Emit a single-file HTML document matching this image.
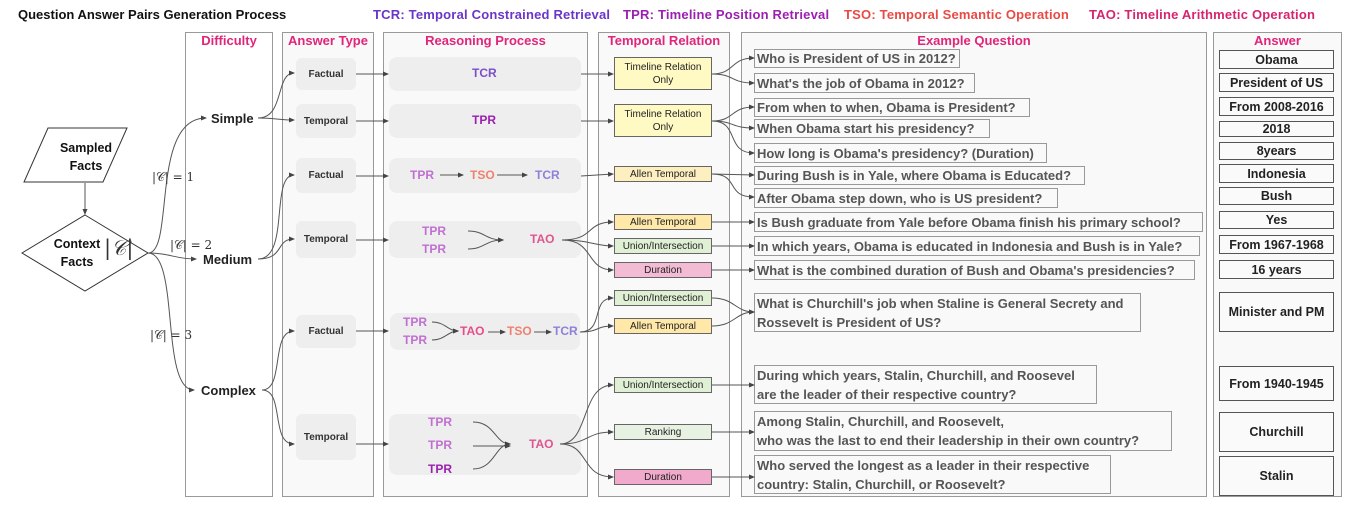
<!DOCTYPE html>
<html><head><meta charset="utf-8"><style>
body{margin:0;width:1355px;height:508px;background:#fff;position:relative;overflow:hidden;font-family:"Liberation Sans",sans-serif}
.a{position:absolute}
.panel{position:absolute;top:32px;height:465px;border:1px solid #999;background:#f9f9f9;box-sizing:border-box}
.hd{position:absolute;top:33px;font-weight:bold;font-size:13px;color:#e0257a;text-align:center}
.at{position:absolute;left:296px;width:60px;background:#eee;border-radius:6px;font-size:10px;font-weight:bold;color:#333;display:flex;align-items:center;justify-content:center}
.rp{position:absolute;left:389px;width:192px;background:#eeeeee;border-radius:8px}
.tr{position:absolute;left:614px;width:98px;border:1px solid #666;box-sizing:border-box;font-size:10px;color:#222;display:flex;align-items:center;justify-content:center;text-align:center;line-height:13px}
.q{position:absolute;left:754px;border:1px solid #999;box-sizing:border-box;background:#f9f9f9;font-weight:bold;font-size:13px;color:#555;padding:0 2px;display:flex;align-items:center;line-height:19px;white-space:nowrap}
.an{position:absolute;left:1219px;width:115px;border:1px solid #555;box-sizing:border-box;font-weight:bold;font-size:12.5px;color:#222;display:flex;align-items:center;justify-content:center;background:#fafafa}
.t{position:absolute;font-weight:bold;font-size:12px}
.m{position:absolute;font-family:"DejaVu Serif","Liberation Serif",serif;font-size:12px;color:#333}
.ttl{position:absolute;top:7px;font-weight:bold;font-size:13px;white-space:nowrap}
</style></head><body>
<div class="ttl" style="left:18px;color:#111">Question Answer Pairs Generation Process</div>
<div class="ttl" style="left:373px;color:#6a35c8;letter-spacing:0.2px">TCR: Temporal Constrained Retrieval</div>
<div class="ttl" style="left:623px;color:#9b1fb0;letter-spacing:0.2px">TPR: Timeline Position Retrieval</div>
<div class="ttl" style="left:844px;color:#e84a45;letter-spacing:0.2px">TSO: Temporal Semantic Operation</div>
<div class="ttl" style="left:1089px;color:#d6246e;letter-spacing:0.2px">TAO: Timeline Arithmetic Operation</div>

<div class="panel" style="left:185px;width:88px;background:#fff"></div>
<div class="panel" style="left:282px;width:92px"></div>
<div class="panel" style="left:383px;width:205px"></div>
<div class="panel" style="left:598px;width:132px"></div>
<div class="panel" style="left:741px;width:466px"></div>
<div class="panel" style="left:1213px;width:129px"></div>
<div class="hd" style="left:185px;width:88px">Difficulty</div>
<div class="hd" style="left:282px;width:92px">Answer Type</div>
<div class="hd" style="left:383px;width:205px">Reasoning Process</div>
<div class="hd" style="left:598px;width:132px">Temporal Relation</div>
<div class="hd" style="left:741px;width:466px">Example Question</div>
<div class="hd" style="left:1213px;width:129px">Answer</div>

<div class="at" style="top:58px;height:32px">Factual</div>
<div class="at" style="top:104px;height:34px">Temporal</div>
<div class="at" style="top:158px;height:35px">Factual</div>
<div class="at" style="top:221px;height:37px">Temporal</div>
<div class="at" style="top:315px;height:33px">Factual</div>
<div class="at" style="top:414px;height:46px">Temporal</div>

<div class="rp" style="top:57px;height:34px"></div>
<div class="rp" style="top:104px;height:34px"></div>
<div class="rp" style="top:158px;height:35px"></div>
<div class="rp" style="top:221px;height:37px"></div>
<div class="rp" style="left:390px;width:190px;top:313px;height:37px"></div>
<div class="rp" style="top:414px;height:61px"></div>

<div class="t" style="left:472px;top:66px;color:#7a4fc8">TCR</div>
<div class="t" style="left:472px;top:113px;color:#9b1fb0">TPR</div>
<div class="t" style="left:410px;top:168px;color:#c070d0">TPR</div>
<div class="t" style="left:470px;top:168px;color:#f08070">TSO</div>
<div class="t" style="left:535px;top:168px;color:#9080d8">TCR</div>
<div class="t" style="left:422px;top:224px;color:#c070d0">TPR</div>
<div class="t" style="left:422px;top:242px;color:#c070d0">TPR</div>
<div class="t" style="left:530px;top:232px;color:#e05590">TAO</div>
<div class="t" style="left:403px;top:315px;color:#c070d0">TPR</div>
<div class="t" style="left:403px;top:333px;color:#c070d0">TPR</div>
<div class="t" style="left:460px;top:324px;color:#e84c88">TAO</div>
<div class="t" style="left:507px;top:324px;color:#f08070">TSO</div>
<div class="t" style="left:553px;top:324px;color:#9080d8">TCR</div>
<div class="t" style="left:428px;top:415px;color:#c070d0">TPR</div>
<div class="t" style="left:428px;top:438px;color:#c070d0">TPR</div>
<div class="t" style="left:428px;top:462px;color:#9b1fb0">TPR</div>
<div class="t" style="left:529px;top:437px;color:#e05590">TAO</div>

<div class="tr" style="top:57px;height:33px;background:#fff9c4">Timeline Relation<br>Only</div>
<div class="tr" style="top:104px;height:33px;background:#fff9c4">Timeline Relation<br>Only</div>
<div class="tr" style="top:166px;height:16px;background:#fdefc0">Allen Temporal</div>
<div class="tr" style="top:214px;height:16px;background:#ffe8a8">Allen Temporal</div>
<div class="tr" style="top:238px;height:16px;background:#e0f0d4">Union/Intersection</div>
<div class="tr" style="top:262px;height:16px;background:#f4bcd4">Duration</div>
<div class="tr" style="top:290px;height:16px;background:#e0f0d4">Union/Intersection</div>
<div class="tr" style="top:318px;height:16px;background:#ffe8a8">Allen Temporal</div>
<div class="tr" style="top:377px;height:16px;background:#e0f0d4">Union/Intersection</div>
<div class="tr" style="top:424px;height:16px;background:#e8f2e2">Ranking</div>
<div class="tr" style="top:469px;height:16px;background:#f2aacc">Duration</div>

<div class="q" style="top:49px;height:19px;width:206px">Who is President of US in 2012?</div>
<div class="q" style="top:73px;height:20px;width:221px">What's the job of Obama in 2012?</div>
<div class="q" style="top:98px;height:19px;width:276px">From when to when, Obama is President?</div>
<div class="q" style="top:119px;height:19px;width:236px">When Obama start his presidency?</div>
<div class="q" style="top:143px;height:20px;width:293px">How long is Obama's presidency? (Duration)</div>
<div class="q" style="top:166px;height:19px;width:331px">During Bush is in Yale, where Obama is Educated?</div>
<div class="q" style="top:188px;height:20px;width:304px">After Obama step down, who is US president?</div>
<div class="q" style="top:212px;height:20px;width:449px">Is Bush graduate from Yale before Obama finish his primary school?</div>
<div class="q" style="top:236px;height:20px;width:446px">In which years, Obama is educated in Indonesia and Bush is in Yale?</div>
<div class="q" style="top:260px;height:20px;width:441px">What is the combined duration of Bush and Obama's presidencies?</div>
<div class="q" style="top:293px;height:39px;width:387px">What is Churchill's job when Staline is General Secrety and<br>Rossevelt is President of US?</div>
<div class="q" style="top:365px;height:39px;width:343px">During which years, Stalin, Churchill, and Roosevel<br>are the leader of their respective country?</div>
<div class="q" style="top:411px;height:40px;width:418px">Among Stalin, Churchill, and Roosevelt,<br>who was the last to end their leadership in their own country?</div>
<div class="q" style="top:455px;height:39px;width:357px">Who served the longest as a leader in their respective<br>country: Stalin, Churchill, or Roosevelt?</div>

<div class="an" style="top:50px;height:19px">Obama</div>
<div class="an" style="top:73px;height:19px">President of US</div>
<div class="an" style="top:97px;height:19px">From 2008-2016</div>
<div class="an" style="top:121px;height:16px">2018</div>
<div class="an" style="top:142px;height:18px">8years</div>
<div class="an" style="top:164px;height:19px">Indonesia</div>
<div class="an" style="top:187px;height:18px">Bush</div>
<div class="an" style="top:211px;height:18px">Yes</div>
<div class="an" style="top:235px;height:19px">From 1967-1968</div>
<div class="an" style="top:260px;height:19px">16 years</div>
<div class="an" style="top:292px;height:40px">Minister and PM</div>
<div class="an" style="top:366px;height:35px">From 1940-1945</div>
<div class="an" style="top:412px;height:40px">Churchill</div>
<div class="an" style="top:456px;height:40px">Stalin</div>

<div class="t" style="left:211px;top:111px;font-size:13px;color:#222">Simple</div>
<div class="t" style="left:203px;top:252px;font-size:13px;color:#222">Medium</div>
<div class="t" style="left:201px;top:383px;font-size:13px;color:#222">Complex</div>

<svg class="a" style="left:0;top:0" width="1355" height="508">
<defs><marker id="ar" markerWidth="6" markerHeight="6" refX="5" refY="3" orient="auto"><path d="M0,0.5 L6,3 L0,5.5z" fill="#444"/></marker></defs>
<polygon points="48,128 127,128 103,182 24,182" fill="#fff" stroke="#333"/>
<polygon points="85,215 148,253 85,291 22,253" fill="#fff" stroke="#333"/>
<g fill="none" stroke="#555" stroke-width="1" marker-end="url(#ar)">
<path d="M85,183 V214"/>
<path d="M148,253 C175,253 150,118 206,118"/>
<path d="M148,253 C170,253 175,259 196,259"/>
<path d="M148,253 C180,253 160,390 194,390"/>
<path d="M258,118 C285,118 275,73 294,73"/>
<path d="M258,118 C275,118 280,120 294,120"/>
<path d="M258,259 C290,259 270,175 294,175"/>
<path d="M258,259 C285,259 275,239 294,239"/>
<path d="M262,390 C285,390 270,331 294,331"/>
<path d="M262,390 C285,390 270,444 294,444"/>
<path d="M356,74 H388"/><path d="M356,121 H388"/><path d="M356,176 H388"/><path d="M356,240 H388"/><path d="M356,331 H388"/><path d="M356,444 H388"/>
<path d="M581,74 H613"/><path d="M581,121 H613"/><path d="M581,176 L613,174"/>
<path d="M562,240 C595,240 585,222 613,222"/>
<path d="M562,240 C590,240 595,246 613,246"/>
<path d="M562,240 C595,240 585,270 613,270"/>
<path d="M580,332 C605,332 590,298 613,298"/>
<path d="M580,332 C600,332 595,326 613,326"/>
<path d="M560,444 C590,444 580,385 613,385"/>
<path d="M560,444 C590,444 585,432 613,432"/>
<path d="M560,444 C590,444 580,477 613,477"/>
<path d="M712,74 C735,74 730,58 754,58"/>
<path d="M712,74 C735,74 730,83 754,83"/>
<path d="M712,121 C735,121 730,107 754,107"/>
<path d="M712,121 C735,121 730,128 754,128"/>
<path d="M712,121 C740,121 725,153 754,153"/>
<path d="M712,174 L754,175"/>
<path d="M712,174 C740,174 725,197 754,197"/>
<path d="M712,222 H754"/><path d="M712,246 H754"/><path d="M712,270 H754"/>
<path d="M712,298 C735,298 735,312 754,312"/>
<path d="M712,326 C735,326 735,312 754,312"/>
<path d="M712,385 H754"/><path d="M712,432 H754"/><path d="M712,477 H754"/>
<path d="M440,175 H463"/><path d="M497,175 H527"/>
<path d="M468,231 C485,231 485,240 503,240"/>
<path d="M468,249 C485,249 485,240 503,240"/>
<path d="M432,322 C445,322 448,331 458,331"/>
<path d="M432,340 C445,340 448,331 458,331"/>
<path d="M488,332 H505"/><path d="M534,332 H551"/>
<path d="M473,422 C495,422 495,444 510,444"/>
<path d="M473,446 H510"/>
<path d="M473,469 C495,469 495,444 510,444"/>
</g>
</svg>
<div class="t" style="left:55px;top:139px;font-size:12.5px;color:#111;text-align:center;width:62px;line-height:18px">Sampled<br>Facts</div>
<div class="t" style="left:48px;top:235px;font-size:12.5px;color:#111;text-align:center;width:58px;line-height:18px">Context<br>Facts</div>
<div class="m" style="left:104px;top:236px;font-size:21px;font-style:italic">|𝒞|</div>
<div class="m" style="left:152px;top:170px">|𝒞| = 1</div>
<div class="m" style="left:170px;top:238px">|𝒞| = 2</div>
<div class="m" style="left:150px;top:328px">|𝒞| = 3</div>
</body></html>
